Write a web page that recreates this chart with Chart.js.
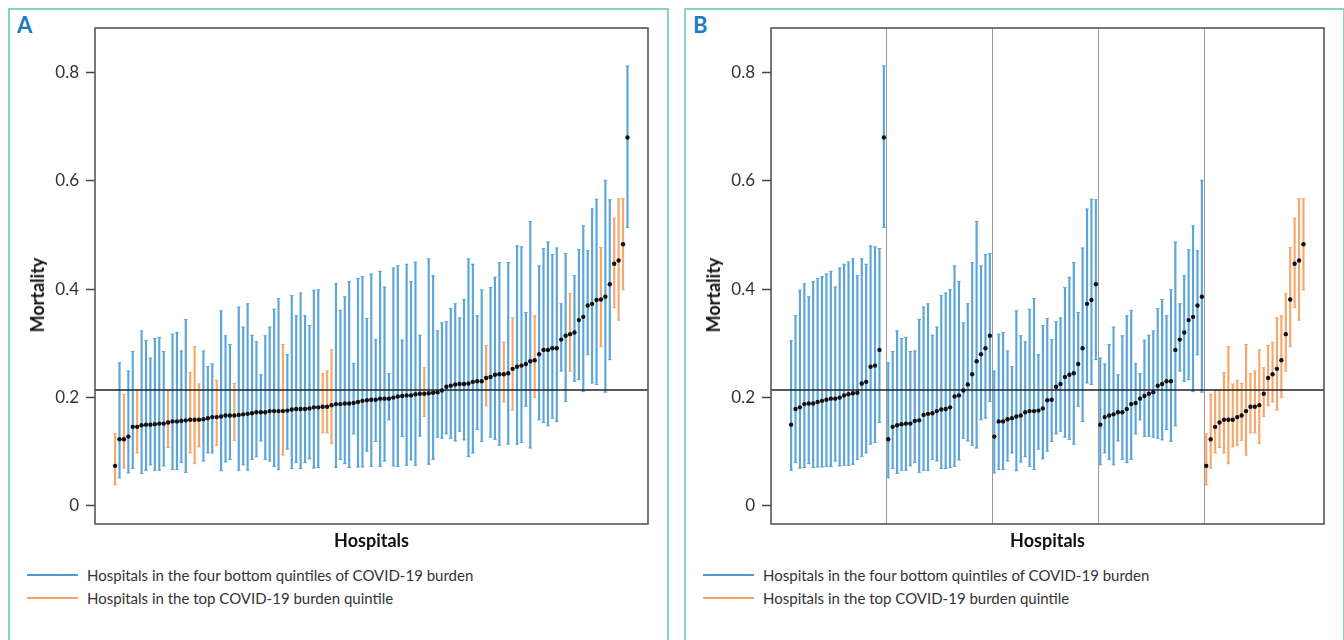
<!DOCTYPE html>
<html>
<head>
<meta charset="utf-8">
<script src="https://cdn.jsdelivr.net/npm/chart.js@4.4.1/dist/chart.umd.min.js"></script>
<style>
  body { margin: 0; width: 1344px; height: 640px; overflow: hidden; background: #fff; font-family: Lato, sans-serif; }
  .panel { position: absolute; top: 8px; width: 657px; height: 660px; border: 2px solid #86d4c0; }
  .tag { position: absolute; top: 12px; font-size: 22px; font-weight: bold; color: #1a7dc4; line-height: 26px; }
  canvas { position: absolute; top: 10px; }
  .ytitle { position: absolute; top: 295px; font-size: 18px; font-weight: bold; color: #111; transform: translate(-50%, -50%) rotate(-90deg); white-space: nowrap; }
  .leg { position: absolute; font-size: 15px; color: #333; line-height: 20px; }
  .leg span { position: absolute; left: -60px; top: 9px; width: 51px; height: 2px; }
</style>
</head>
<body>
<div class="panel" style="left:8px"></div>
<div class="panel" style="left:684px"></div>
<div class="tag" style="left:17px">A</div>
<div class="tag" style="left:693px">B</div>
<canvas id="chartA" width="655" height="545" style="left:10px"></canvas>
<canvas id="chartB" width="655" height="545" style="left:686px"></canvas>
<div class="ytitle" style="left:37px">Mortality</div>
<div class="ytitle" style="left:713px">Mortality</div>

<div class="leg" style="left:87px;top:565px"><span style="background:#4b9ad0"></span>Hospitals in the four bottom quintiles of COVID-19 burden</div>
<div class="leg" style="left:87px;top:588px"><span style="background:#f5a36a"></span>Hospitals in the top COVID-19 burden quintile</div>
<div class="leg" style="left:763px;top:565px"><span style="background:#4b9ad0"></span>Hospitals in the four bottom quintiles of COVID-19 burden</div>
<div class="leg" style="left:763px;top:588px"><span style="background:#f5a36a"></span>Hospitals in the top COVID-19 burden quintile</div>

<script>
// mortality and 95% CI per hospital, grouped by COVID-19 burden quintile
const q1Mort = [0.150, 0.179, 0.182, 0.188, 0.189, 0.189, 0.192, 0.194, 0.196, 0.198, 0.198, 0.200, 0.204, 0.206, 0.208, 0.209, 0.226, 0.229, 0.257, 0.259, 0.288, 0.680]
const q1Low = [0.066, 0.080, 0.070, 0.071, 0.078, 0.071, 0.072, 0.072, 0.073, 0.073, 0.083, 0.074, 0.075, 0.075, 0.077, 0.086, 0.091, 0.098, 0.114, 0.117, 0.154, 0.514]
const q1High = [0.305, 0.351, 0.398, 0.410, 0.386, 0.414, 0.420, 0.423, 0.428, 0.433, 0.404, 0.439, 0.446, 0.450, 0.456, 0.425, 0.456, 0.446, 0.480, 0.478, 0.475, 0.812]

const q2Mort = [0.123, 0.146, 0.149, 0.151, 0.152, 0.152, 0.157, 0.158, 0.168, 0.170, 0.171, 0.175, 0.178, 0.179, 0.182, 0.202, 0.204, 0.213, 0.224, 0.243, 0.267, 0.280, 0.291, 0.314]
const q2Low = [0.052, 0.069, 0.060, 0.066, 0.066, 0.074, 0.080, 0.062, 0.066, 0.066, 0.086, 0.083, 0.069, 0.069, 0.071, 0.073, 0.085, 0.125, 0.120, 0.112, 0.107, 0.159, 0.162, 0.193]
const q2High = [0.264, 0.285, 0.323, 0.309, 0.311, 0.285, 0.286, 0.344, 0.367, 0.373, 0.315, 0.330, 0.388, 0.393, 0.399, 0.443, 0.414, 0.338, 0.373, 0.449, 0.525, 0.443, 0.464, 0.466]

const q3Mort = [0.128, 0.156, 0.156, 0.160, 0.162, 0.165, 0.167, 0.173, 0.175, 0.175, 0.176, 0.180, 0.195, 0.196, 0.220, 0.225, 0.238, 0.242, 0.245, 0.262, 0.291, 0.373, 0.380, 0.409]
const q3Low = [0.061, 0.067, 0.067, 0.083, 0.098, 0.065, 0.081, 0.091, 0.073, 0.067, 0.105, 0.087, 0.101, 0.119, 0.133, 0.138, 0.127, 0.123, 0.114, 0.184, 0.156, 0.227, 0.224, 0.270]
const q3High = [0.249, 0.317, 0.320, 0.286, 0.257, 0.360, 0.314, 0.303, 0.363, 0.383, 0.279, 0.333, 0.346, 0.307, 0.340, 0.347, 0.403, 0.422, 0.449, 0.357, 0.476, 0.548, 0.566, 0.565]

const q4Mort = [0.150, 0.164, 0.167, 0.169, 0.173, 0.173, 0.179, 0.188, 0.190, 0.198, 0.203, 0.207, 0.210, 0.222, 0.225, 0.230, 0.230, 0.288, 0.307, 0.320, 0.343, 0.349, 0.370, 0.386]
const q4Low = [0.076, 0.098, 0.086, 0.076, 0.120, 0.086, 0.080, 0.086, 0.133, 0.159, 0.128, 0.129, 0.127, 0.125, 0.122, 0.141, 0.119, 0.148, 0.249, 0.230, 0.233, 0.211, 0.279, 0.210]
const q4High = [0.273, 0.262, 0.298, 0.330, 0.242, 0.314, 0.351, 0.361, 0.263, 0.244, 0.306, 0.315, 0.323, 0.364, 0.381, 0.351, 0.399, 0.487, 0.373, 0.425, 0.473, 0.517, 0.471, 0.601]

// top quintile (orange)
const q5Mort = [0.074, 0.123, 0.146, 0.154, 0.159, 0.159, 0.159, 0.164, 0.167, 0.175, 0.183, 0.183, 0.186, 0.207, 0.236, 0.243, 0.253, 0.269, 0.317, 0.381, 0.447, 0.453, 0.483]
const q5Low = [0.039, 0.070, 0.098, 0.108, 0.098, 0.078, 0.109, 0.112, 0.121, 0.094, 0.135, 0.135, 0.115, 0.165, 0.185, 0.192, 0.177, 0.200, 0.249, 0.294, 0.366, 0.343, 0.399]
const q5High = [0.133, 0.206, 0.214, 0.214, 0.246, 0.294, 0.225, 0.232, 0.226, 0.298, 0.244, 0.249, 0.288, 0.255, 0.296, 0.302, 0.347, 0.351, 0.392, 0.477, 0.531, 0.567, 0.567]

const overallMortality = 0.214
const yTicks = [0, 0.2, 0.4, 0.6, 0.8]

const BLUE = '#5ca5d7'
const ORANGE = '#f6a86c'

const groups = [
  [q1Mort, q1Low, q1High, false],
  [q2Mort, q2Low, q2High, false],
  [q3Mort, q3Low, q3High, false],
  [q4Mort, q4Low, q4High, false],
  [q5Mort, q5Low, q5High, true],
]

// panel B keeps quintile order, panel A is sorted by mortality
const byQuintile = []
const dividers = []
groups.forEach(([mort, low, high, top], g) => {
  mort.forEach((m, i) => byQuintile.push({ mort: m, low: low[i], high: high[i], top }))
  if (g < groups.length - 1) dividers.push(byQuintile.length - 0.5)
})
const sorted = byQuintile.slice().sort((a, b) => a.mort - b.mort)

Chart.defaults.font.family = 'Lato, sans-serif'
Chart.defaults.color = '#333'

// draws the frame round the plot area
const frame = {
  id: 'frame',
  afterDraw(chart) {
    const { ctx, chartArea: a } = chart
    ctx.save()
    ctx.strokeStyle = '#555'
    ctx.lineWidth = 1.6
    ctx.strokeRect(a.left, a.top, a.right - a.left, a.bottom - a.top)
    ctx.restore()
  },
}

function makeChart(id, list, lines) {
  const xMin = -4.55
  const xMax = list.length - 1 + 4.65
  const colors = list.map((h) => (h.top ? ORANGE : BLUE))
  return new Chart(document.getElementById(id), {
    type: 'scatter',
    data: {
      datasets: [
        {
          type: 'scatter',
          data: list.map((h, i) => ({ x: i, y: h.mort })),
          pointRadius: 2.2,
          backgroundColor: '#111',
          borderWidth: 0,
          order: 0,
        },
        {
          type: 'line',
          data: [
            { x: xMin, y: overallMortality },
            { x: xMax, y: overallMortality },
          ],
          borderColor: '#222',
          borderWidth: 1.6,
          pointRadius: 0,
          order: 1,
        },
        {
          type: 'scatter',
          data: list.flatMap((h, i) => [
            { x: i, y: h.low },
            { x: i, y: h.high },
          ]),
          pointStyle: 'line',
          pointRadius: 1.8,
          borderWidth: 1,
          borderColor: list.flatMap((h) => (h.top ? [ORANGE, ORANGE] : [BLUE, BLUE])),
          order: 2,
        },
        {
          type: 'bar',
          data: list.map((h, i) => ({ x: i, y: [h.low, h.high] })),
          backgroundColor: colors,
          barThickness: 1.5,
          borderWidth: 0,
          order: 3,
        },
      ],
    },
    options: {
      responsive: false,
      animation: false,
      layout: { padding: { left: 10, top: 18, right: 17, bottom: 1 } },
      plugins: { legend: { display: false }, tooltip: { enabled: false } },
      scales: {
        x: {
          type: 'linear',
          offset: false,
          min: xMin,
          max: xMax,
          afterBuildTicks: (s) => {
            s.ticks = (lines || []).map((v) => ({ value: v }))
          },
          afterFit: (s) => {
            s.height = 30
          },
          ticks: { display: false },
          grid: { display: !!lines, offset: false, drawTicks: false, color: '#9a9a9a', lineWidth: 1 },
          border: { display: false },
          title: {
            display: true,
            text: 'Hospitals',
            color: '#111',
            font: { size: 18, weight: 'bold' },
            padding: { top: 6, bottom: 2 },
          },
        },
        y: {
          type: 'linear',
          min: -0.0333,
          max: 0.882,
          afterBuildTicks: (s) => {
            s.ticks = yTicks.map((v) => ({ value: v }))
          },
          afterFit: (s) => {
            s.width = 75
          },
          ticks: { font: { size: 17 }, color: '#333', padding: 7 },
          grid: { drawOnChartArea: false, drawTicks: true, tickLength: 9, tickColor: '#444', tickWidth: 1.5 },
          border: { display: false },
        },
      },
    },
    plugins: [frame],
  })
}

makeChart('chartA', sorted, null)
makeChart('chartB', byQuintile, dividers)
</script>
</body>
</html>
